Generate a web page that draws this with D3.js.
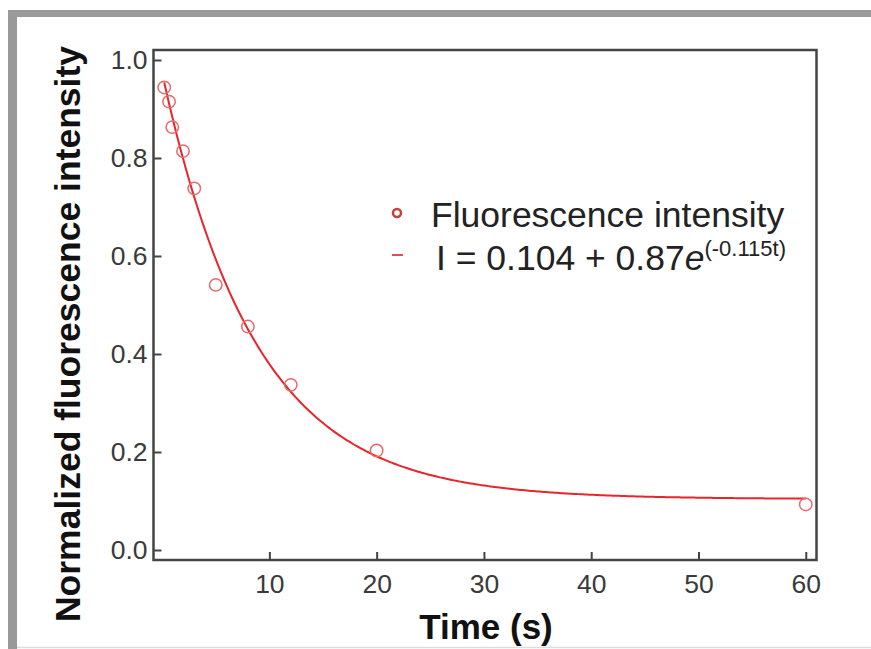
<!DOCTYPE html>
<html>
<head>
<meta charset="utf-8">
<script src="https://cdn.jsdelivr.net/npm/d3@7"></script>
<style>
  html, body { margin: 0; padding: 0; background: #fff; }
  svg { display: block; font-family: "Liberation Sans", Arial, Helvetica, sans-serif; }
</style>
</head>
<body>
<div id="chart"></div>
<script>
// data
const timeValues = [0.2, 0.65, 0.95, 1.95, 3, 5, 8, 12, 20, 60];
const intensityValues = [0.944, 0.915, 0.863, 0.814, 0.738, 0.541, 0.456, 0.337, 0.203, 0.093];
// fit from the legend: I = a + b * e^(-k t)
const fitParams = [0.104, 0.87, 0.115];
const fitRange = [0.2, 60];
const xTicks = [10, 20, 30, 40, 50, 60];
const yTicks = [0.0, 0.2, 0.4, 0.6, 0.8, 1.0];

const width = 871;
const height = 649;

const svg = d3.select("#chart").append("svg")
  .attr("width", width)
  .attr("height", height);

// --- outer frame (gray bars top and left) ---
svg.append("rect").attr("x", 8).attr("y", 10).attr("width", width - 8).attr("height", 7).attr("fill", "#999");
svg.append("rect").attr("x", 8).attr("y", 10).attr("width", 9).attr("height", height - 10).attr("fill", "#999");
svg.append("line").attr("x1", 17).attr("x2", width).attr("y1", 647.5).attr("y2", 647.5)
  .attr("stroke", "#ddd").attr("stroke-width", 1.5);

// --- scales ---
const x = d3.scaleLinear().domain([-0.8, 61]).range([153.5, 816.5]);
const y = d3.scaleLinear().domain([-0.0204, 1.0204]).range([560, 50]);

// plot box
svg.append("rect")
  .attr("x", x.range()[0]).attr("y", y.range()[1])
  .attr("width", x.range()[1] - x.range()[0])
  .attr("height", y.range()[0] - y.range()[1])
  .attr("fill", "none").attr("stroke", "#444").attr("stroke-width", 2.5);

// axes, ticks inside
const xAxis = svg.append("g")
  .attr("transform", `translate(0,${y.range()[0]})`)
  .call(d3.axisBottom(x).tickValues(xTicks).tickSizeInner(-8).tickSizeOuter(0).tickPadding(14));
const yAxis = svg.append("g")
  .attr("transform", `translate(${x.range()[0]},0)`)
  .call(d3.axisLeft(y).tickValues(yTicks).tickFormat(d3.format(".1f")).tickSizeInner(-8).tickSizeOuter(0).tickPadding(6));

[xAxis, yAxis].forEach(g => {
  g.select(".domain").remove();
  g.selectAll(".tick line").attr("stroke", "#444").attr("stroke-width", 2);
  g.selectAll(".tick text")
    .attr("fill", "#3a3a3a")
    .style("font-size", "26.5px")
    .style("font-family", "'Liberation Sans', Arial, sans-serif");
});

// axis titles
svg.append("text")
  .attr("x", 486).attr("y", 639)
  .attr("text-anchor", "middle")
  .style("font-size", "35px").style("font-weight", "bold")
  .attr("fill", "#111")
  .text("Time (s)");

svg.append("text")
  .attr("transform", "translate(80,334) rotate(-90)")
  .attr("text-anchor", "middle")
  .style("font-size", "35.5px").style("font-weight", "bold")
  .attr("fill", "#111")
  .text("Normalized fluorescence intensity");

// --- fit curve ---
const [a, b, k] = fitParams;
const fitPoints = d3.range(fitRange[0], fitRange[1] + 0.01, 0.2).map(t => [t, a + b * Math.exp(-k * t)]);
svg.append("path")
  .datum(fitPoints)
  .attr("fill", "none")
  .attr("stroke", "#e8252b")
  .attr("stroke-width", 2)
  .attr("d", d3.line().x(d => x(d[0])).y(d => y(d[1])));

// --- data points ---
svg.selectAll("circle.pt")
  .data(timeValues.map((t, i) => [t, intensityValues[i]]))
  .enter()
  .append("circle")
  .attr("class", "pt")
  .attr("cx", d => x(d[0]))
  .attr("cy", d => y(d[1]))
  .attr("r", 6.2)
  .attr("fill", "none")
  .attr("stroke", "#e86a6a")
  .attr("stroke-width", 1.5);

// --- legend ---
const legend = svg.append("g");
legend.append("circle")
  .attr("cx", 397).attr("cy", 213).attr("r", 4)
  .attr("fill", "none").attr("stroke", "#c8403a").attr("stroke-width", 2.5);
legend.append("line")
  .attr("x1", 392).attr("x2", 403).attr("y1", 255).attr("y2", 255)
  .attr("stroke", "#e05050").attr("stroke-width", 2);

legend.append("text")
  .attr("x", 431).attr("y", 227)
  .style("font-size", "35.5px").attr("fill", "#222")
  .text("Fluorescence intensity");

const eq = legend.append("text")
  .attr("x", 436).attr("y", 270)
  .style("font-size", "35.5px").attr("fill", "#222");
eq.append("tspan").text("I = 0.104 + 0.87");
eq.append("tspan").style("font-style", "italic").text("e");
eq.append("tspan").attr("dy", -14).style("font-size", "22px").text("(-0.115t)");
</script>
</body>
</html>
